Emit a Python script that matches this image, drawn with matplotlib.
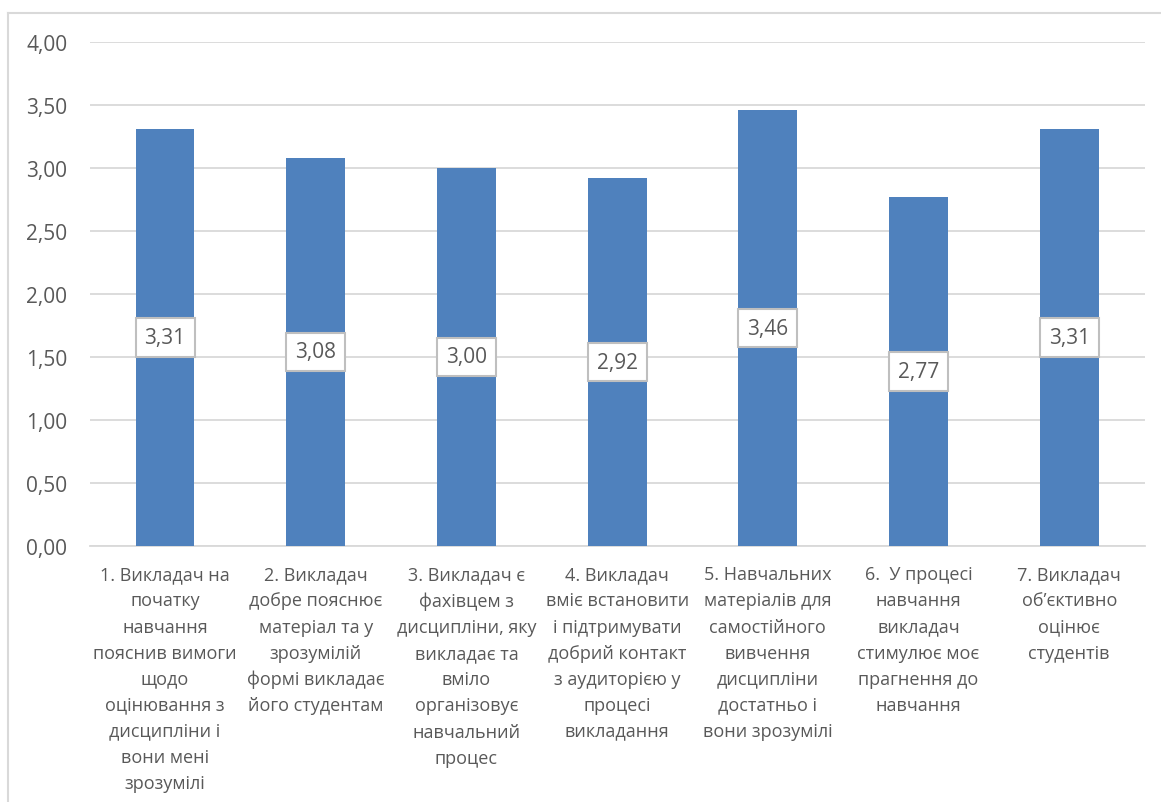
import matplotlib
matplotlib.use("Agg")
import matplotlib.pyplot as plt
from matplotlib.lines import Line2D
import numpy as np

categories = [
    "1. Викладач на\nпочатку\nнавчання\nпояснив вимоги\nщодо\nоцінювання з\nдисципліни і\nвони мені\nзрозумілі",
    "2. Викладач\nдобре пояснює\nматеріал та у\nзрозумілій\nформі викладає\nйого студентам",
    "3. Викладач є\nфахівцем з\nдисципліни, яку\nвикладає та\nвміло\nорганізовує\nнавчальний\nпроцес",
    "4. Викладач\nвміє встановити\nі підтримувати\nдобрий контакт\nз аудиторією у\nпроцесі\nвикладання",
    "5. Навчальних\nматеріалів для\nсамостійного\nвивчення\nдисципліни\nдостатньо і\nвони зрозумілі",
    "6.  У процесі\nнавчання\nвикладач\nстимулює моє\nпрагнення до\nнавчання",
    "7. Викладач\nоб\u2019єктивно\nоцінює\nстудентів",
]
values = [3.31, 3.08, 3.00, 2.92, 3.46, 2.77, 3.31]
yticks = [0.0, 0.5, 1.0, 1.5, 2.0, 2.5, 3.0, 3.5, 4.0]

plt.rcParams['font.family'] = ['Open Sans', 'DejaVu Sans']
text_color = '#595959'
grid_color = '#D9D9D9'
bar_color = '#4F81BD'

fig = plt.figure(figsize=(11.61, 8.03), dpi=100)
W, H = 1161, 803
ax = fig.add_axes([89.7 / W, 1 - 547 / H, (1144.6 - 89.7) / W, 504 / H])

x = np.arange(len(values))
bars = ax.bar(x, values, width=0.39, color=bar_color, zorder=2)

ax.set_xlim(-0.5, len(values) - 0.5)
ax.set_ylim(0, 4)
ax.set_yticks(yticks)
ax.set_yticklabels([f"{v:.2f}".replace('.', ',') for v in yticks],
                   fontsize=15, color=text_color)
ax.set_xticks(x)
ax.set_xticklabels(categories, fontsize=13, color=text_color, linespacing=1.575,
                   va='top', ha='center')
ax.tick_params(axis='both', length=0)
ax.tick_params(axis='y', pad=16)
ax.tick_params(axis='x', pad=14)

ax.yaxis.grid(True, color=grid_color, linewidth=1.3, zorder=0)
ax.set_axisbelow(True)
for s in ['top', 'right', 'left']:
    ax.spines[s].set_visible(False)
ax.spines['bottom'].set_color(grid_color)
ax.spines['bottom'].set_linewidth(1.3)
ax.spines['bottom'].set_zorder(1)

for xi, v in zip(x, values):
    ax.text(xi, v / 2, f"{v:.2f}".replace('.', ','), ha='center', va='center',
            fontsize=15, color=text_color, zorder=5,
            bbox=dict(boxstyle='square,pad=0.43', facecolor='white',
                      edgecolor='#BFBFBF', linewidth=1.5))

# outer frame (top and left edges visible)
fig.add_artist(Line2D([8 / W, 1.0], [1 - 14 / H, 1 - 14 / H], color=grid_color,
                      linewidth=1.5, transform=fig.transFigure))
fig.add_artist(Line2D([8 / W, 8 / W], [1 - 14 / H, 0.0], color=grid_color,
                      linewidth=1.5, transform=fig.transFigure))

fig.savefig('out.png', dpi=100, facecolor='white')
